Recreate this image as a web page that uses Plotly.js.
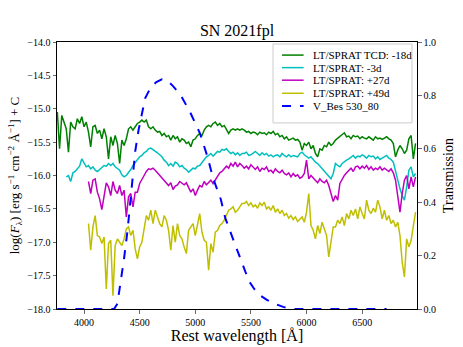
<!DOCTYPE html>
<html>
<head>
<meta charset="utf-8">
<script src="https://cdn.plot.ly/plotly-3.0.1.min.js"></script>
<style>
  html, body { margin: 0; padding: 0; background: #fff; }
  #graph { width: 463px; height: 347px; }
</style>
</head>
<body>
<div id="graph"></div>
<script>
// rest wavelength grid shared by the four spectra (Angstrom)
var wave = [
  3760, 3780, 3800, 3820, 3840, 3860, 3880, 3900, 3920, 3940,
  3960, 3980, 4000, 4020, 4040, 4060, 4080, 4100, 4120, 4140,
  4160, 4180, 4200, 4220, 4240, 4260, 4280, 4300, 4320, 4340,
  4360, 4380, 4400, 4420, 4440, 4460, 4480, 4500, 4520, 4540,
  4560, 4580, 4600, 4620, 4640, 4660, 4680, 4700, 4720, 4740,
  4760, 4780, 4800, 4820, 4840, 4860, 4880, 4900, 4920, 4940,
  4960, 4980, 5000, 5020, 5040, 5060, 5080, 5100, 5120, 5140,
  5160, 5180, 5200, 5220, 5240, 5260, 5280, 5300, 5320, 5340,
  5360, 5380, 5400, 5420, 5440, 5460, 5480, 5500, 5520, 5540,
  5560, 5580, 5600, 5620, 5640, 5660, 5680, 5700, 5720, 5740,
  5760, 5780, 5800, 5820, 5840, 5860, 5880, 5900, 5920, 5940,
  5960, 5980, 6000, 6020, 6040, 6060, 6080, 6100, 6120, 6140,
  6160, 6180, 6200, 6220, 6240, 6260, 6280, 6300, 6320, 6340,
  6360, 6380, 6400, 6420, 6440, 6460, 6480, 6500, 6520, 6540,
  6560, 6580, 6600, 6620, 6640, 6660, 6680, 6700, 6720, 6740,
  6760, 6780, 6800, 6820, 6840, 6860, 6880, 6900, 6920, 6940,
  6960, 6980
];

// log flux + offset
// TCD -18d
var fluxM18 = [
  -15.05, -15.6, -15.1, -15.22, -15.3, -15.65, -15.2, -15.27, -15.3, -15.15,
  -15.22, -15.12, -15.27, -15.2, -15.35, -15.57, -15.27, -15.25, -15.37, -15.32,
  -15.45, -15.3, -15.42, -15.75, -15.42, -15.55, -15.4, -15.52, -15.82, -15.47,
  -15.55, -15.45, -15.3, -15.27, -15.32, -15.27, -15.22, -15.2, -15.17, -15.2,
  -15.17, -15.27, -15.3, -15.27, -15.32, -15.35, -15.34, -15.4, -15.37, -15.42,
  -15.4, -15.47, -15.4, -15.45, -15.42, -15.5, -15.45, -15.47, -15.52, -15.5,
  -15.57, -15.47, -15.45, -15.4, -15.37, -15.4, -15.32, -15.27, -15.25, -15.27,
  -15.22, -15.2, -15.25, -15.22, -15.27, -15.25, -15.3, -15.37, -15.32, -15.3,
  -15.32, -15.3, -15.32, -15.3, -15.32, -15.35, -15.34, -15.37, -15.35, -15.36,
  -15.39, -15.35, -15.37, -15.36, -15.39, -15.35, -15.37, -15.34, -15.39, -15.37,
  -15.42, -15.4, -15.45, -15.42, -15.47, -15.45, -15.44, -15.47, -15.46, -15.5,
  -15.62, -15.52, -15.55, -15.5, -15.6, -15.55, -15.67, -15.72, -15.6, -15.62,
  -15.55, -15.57, -15.5, -15.55, -15.52, -15.47, -15.44, -15.42, -15.39, -15.36,
  -15.42, -15.41, -15.45, -15.4, -15.42, -15.41, -15.45, -15.42, -15.44, -15.45,
  -15.42, -15.44, -15.47, -15.42, -15.45, -15.44, -15.46, -15.44, -15.42, -15.45,
  -15.47, -15.52, -15.72, -15.62, -15.55, -15.6, -15.67, -15.62, -15.45, -15.4,
  -15.75, -15.52
];
// -3d
var fluxM3 = [
  null, null, null, null, -16.02, -16.0, -16.09, -15.96, -15.94, -15.9,
  -15.86, -15.75, -15.82, -15.87, -15.85, -15.9, -15.87, -15.92, -15.94, -15.91,
  -15.89, -15.85, -15.86, -15.82, -15.85, -15.82, -15.87, -15.9, -15.92, -15.99,
  -16.02, -16.0, -15.96, -15.91, -15.85, -15.8, -15.75, -15.72, -15.7, -15.66,
  -15.64, -15.6, -15.59, -15.61, -15.64, -15.66, -15.69, -15.72, -15.77, -15.8,
  -15.85, -15.82, -15.86, -15.8, -15.82, -15.87, -15.85, -15.89, -15.91, -15.95,
  -15.92, -15.89, -15.9, -15.86, -15.85, -15.8, -15.77, -15.72, -15.7, -15.67,
  -15.71, -15.67, -15.64, -15.65, -15.61, -15.62, -15.6, -15.64, -15.67, -15.65,
  -15.69, -15.66, -15.7, -15.67, -15.67, -15.65, -15.7, -15.69, -15.66, -15.64,
  -15.67, -15.7, -15.66, -15.69, -15.67, -15.71, -15.69, -15.72, -15.7, -15.69,
  -15.72, -15.67, -15.7, -15.72, -15.69, -15.72, -15.7, -15.71, -15.72, -15.67,
  -15.65, -15.69, -15.71, -15.74, -15.72, -15.77, -15.8, -15.82, -15.86, -15.9,
  -15.94, -15.97, -16.02, -16.05, -15.97, -15.82, -15.85, -15.87, -15.82, -15.79,
  -15.77, -15.75, -15.72, -15.7, -15.74, -15.71, -15.72, -15.69, -15.71, -15.74,
  -15.7, -15.72, -15.71, -15.75, -15.72, -15.76, -15.74, -15.72, -15.7, -15.74,
  -15.76, -15.8, -15.95, -16.07, -16.2, -16.3, -16.37, -16.17, -15.92, -15.87,
  -16.02, -15.97
];
// +27d
var fluxP27 = [
  null, null, null, null, null, null, null, null, null, null,
  null, null, null, null, -16.09, -16.27, -16.07, -16.05, -16.25, -16.35,
  -16.51, -16.3, -16.11, -16.17, -16.3, -16.09, -16.22, -16.27, -16.15, -16.3,
  -16.22, -16.62, -16.32, -16.27, -16.47, -16.25, -16.25, -16.12, -16.05, -16.0,
  -15.94, -15.9, -15.91, -15.89, -15.92, -15.96, -16.0, -16.04, -16.07, -16.11,
  -16.15, -16.11, -16.21, -16.16, -16.14, -16.09, -16.11, -16.14, -16.11, -16.17,
  -16.25, -16.2, -16.3, -16.22, -16.15, -16.17, -16.09, -16.14, -16.1, -16.07,
  -16.12, -16.07, -16.0, -15.96, -15.94, -15.9, -15.86, -15.89, -15.82, -15.86,
  -15.8, -15.87, -15.82, -15.85, -15.89, -15.86, -15.9, -15.84, -15.87, -15.91,
  -15.87, -15.94, -15.89, -15.91, -15.87, -15.94, -15.92, -15.96, -15.9, -15.94,
  -15.96, -15.92, -15.97, -15.99, -15.96, -16.02, -15.97, -16.01, -15.99, -16.04,
  -16.02, -15.97, -15.77, -16.05, -16.0, -16.04, -16.07, -16.11, -16.05, -16.09,
  -16.11, -16.07, -16.15, -16.27, -16.39, -16.3, -16.37, -16.12, -16.05, -16.0,
  -15.96, -15.92, -15.89, -15.94, -15.87, -15.86, -15.9, -15.86, -15.89, -15.85,
  -15.91, -15.87, -15.92, -15.89, -15.91, -15.87, -15.92, -15.89, -15.91, -15.94,
  -15.9, -15.96, -16.07, -16.3, -16.55, -16.27, -16.07, -16.0, -16.2, -16.02,
  -16.17, -16.02
];
// +49d
var fluxP49 = [
  null, null, null, null, null, null, null, null, null, null,
  null, null, null, null, -16.72, -17.12, -16.77, -16.6, -16.9, -16.92,
  -17.02, -16.92, -17.7, -17.02, -16.97, -17.8, -17.05, -16.95, -17.0, -17.05,
  -16.95, -16.8, -16.77, -16.9, -16.82, -17.1, -17.25, -17.07, -17.0, -16.8,
  -16.6, -16.67, -16.52, -16.72, -16.52, -16.62, -16.72, -16.77, -16.6, -16.67,
  -16.82, -17.12, -16.75, -17.0, -16.72, -16.9, -16.95, -17.07, -17.17, -16.82,
  -16.77, -16.72, -16.9, -16.72, -16.57, -16.85, -16.97, -17.0, -17.42, -17.02,
  -17.15, -16.85, -16.82, -16.75, -16.72, -16.67, -16.6, -16.52, -16.5, -16.47,
  -16.55, -16.52, -16.47, -16.42, -16.42, -16.39, -16.45, -16.41, -16.47, -16.44,
  -16.49, -16.41, -16.45, -16.4, -16.5, -16.47, -16.52, -16.45, -16.55, -16.5,
  -16.57, -16.52, -16.6, -16.57, -16.64, -16.6, -16.66, -16.62, -16.69, -16.65,
  -16.62, -16.7, -16.55, -16.27, -16.75, -16.82, -16.95, -16.75, -16.87, -16.7,
  -16.8, -16.9, -17.22, -16.95, -16.77, -16.77, -16.67, -16.72, -16.62, -16.75,
  -16.57, -16.65, -16.52, -16.6, -16.5, -16.65, -16.47, -16.57, -16.65, -16.37,
  -16.52, -16.57, -16.49, -16.55, -16.37, -16.47, -16.65, -16.52, -16.67, -16.6,
  -16.72, -16.67, -16.77, -16.7, -16.9, -17.3, -17.52, -16.95, -17.07, -16.97,
  -16.72, -16.55
];

// V_Bes 530_80 filter curve (right axis)
var filtWave = [3760, 4270, 4300, 4330, 4360, 4390, 4430, 4460, 4490, 4550,
  4600, 4650, 4700, 4750, 4800, 4870, 4950, 5040, 5110, 5160, 5230, 5270,
  5350, 5410, 5450, 5490, 5530, 5580, 5640, 5700, 5790, 5850, 5900, 6720];
var filtTrans = [0, 0, 0.02, 0.1, 0.19, 0.29, 0.47, 0.59, 0.67, 0.79,
  0.83, 0.85, 0.86, 0.855, 0.835, 0.8, 0.74, 0.66, 0.57, 0.49, 0.41, 0.34,
  0.25, 0.18, 0.14, 0.1, 0.075, 0.052, 0.035, 0.022, 0.008, 0.002, 0, 0];

var names = ['LT/SPRAT TCD: -18d', 'LT/SPRAT: -3d', 'LT/SPRAT: +27d', 'LT/SPRAT: +49d', 'V_Bes 530_80'];
var colors = ['#008000', '#00bfbf', '#bf00bf', '#bfbf00', '#0000ff'];
var fluxes = [fluxM18, fluxM3, fluxP27, fluxP49];

var serif = '"Liberation Serif", "Times New Roman", serif';

var data = [];
for (var i = 0; i < fluxes.length; i++) {
  data.push({
    x: wave,
    y: fluxes[i],
    name: names[i],
    mode: 'lines',
    type: 'scatter',
    connectgaps: false,
    line: {color: colors[i], width: 1.5}
  });
}
data.push({
  x: filtWave,
  y: filtTrans,
  name: names[4],
  yaxis: 'y2',
  mode: 'lines',
  type: 'scatter',
  line: {color: colors[4], width: 2, dash: 'dash'}
});

// matplotlib-style legend box, drawn in paper space
var shapes = [{
  type: 'rect', xref: 'paper', yref: 'paper',
  x0: 0.6, x1: 0.986, y0: 0.697, y1: 0.9925,
  fillcolor: 'rgba(255,255,255,0.85)',
  line: {color: '#cccccc', width: 1},
  layer: 'above'
}];
var annotations = [];
var rowY = [0.951, 0.904, 0.857, 0.808, 0.760];
for (var k = 0; k < names.length; k++) {
  shapes.push({
    type: 'line', xref: 'paper', yref: 'paper',
    x0: 0.625, x1: 0.685, y0: rowY[k], y1: rowY[k],
    line: {color: colors[k], width: k === 4 ? 2 : 1.5, dash: k === 4 ? 'dash' : 'solid'},
    layer: 'above'
  });
  annotations.push({
    xref: 'paper', yref: 'paper',
    x: 0.706, y: rowY[k],
    xanchor: 'left', yanchor: 'middle',
    text: names[k],
    showarrow: false,
    font: {family: serif, size: 11, color: '#000'}
  });
}

var layout = {
  width: 463,
  height: 347,
  margin: {l: 57, r: 46, t: 42, b: 38},
  paper_bgcolor: '#fff',
  plot_bgcolor: '#fff',
  font: {family: serif, color: '#000', size: 10},
  showlegend: false,
  shapes: shapes,
  annotations: annotations,
  title: {
    text: 'SN 2021fpl',
    font: {size: 16, family: serif, color: '#000'},
    x: 0.5,
    xref: 'paper',
    y: 0.9135,
    yref: 'container',
    yanchor: 'middle'
  },
  xaxis: {
    range: [3757, 6993],
    tickvals: [4000, 4500, 5000, 5500, 6000, 6500],
    ticks: 'outside',
    ticklen: 3.5,
    tickwidth: 0.8,
    tickfont: {family: serif, size: 10, color: '#000'},
    showgrid: false,
    zeroline: false,
    showline: true,
    linecolor: '#000',
    linewidth: 1,
    mirror: true,
    title: {text: 'Rest wavelength [Å]', font: {family: serif, size: 16, color: '#000'}, standoff: 0}
  },
  yaxis: {
    range: [-18, -14],
    dtick: 0.5,
    tickformat: '.1f',
    ticks: 'outside',
    ticklen: 3.5,
    tickwidth: 0.8,
    tickfont: {family: serif, size: 10, color: '#000'},
    showgrid: false,
    zeroline: false,
    showline: true,
    linecolor: '#000',
    linewidth: 1,
    title: {
      text: 'log(<i>F</i><sub>λ</sub>) [erg s<sup>−1</sup> cm<sup>−2</sup> Å<sup>−1</sup>] + C',
      font: {family: serif, size: 13, color: '#000'},
      standoff: 4
    }
  },
  yaxis2: {
    overlaying: 'y',
    side: 'right',
    range: [0, 1],
    dtick: 0.2,
    tickformat: '.1f',
    ticks: 'outside',
    ticklen: 3.5,
    tickwidth: 0.8,
    tickfont: {family: serif, size: 10, color: '#000'},
    showgrid: false,
    zeroline: false,
    showline: true,
    linecolor: '#000',
    linewidth: 1,
    title: {text: 'Transmission', font: {family: serif, size: 14, color: '#000'}, standoff: 8}
  }
};

Plotly.newPlot('graph', data, layout, {staticPlot: true});
</script>
</body>
</html>
